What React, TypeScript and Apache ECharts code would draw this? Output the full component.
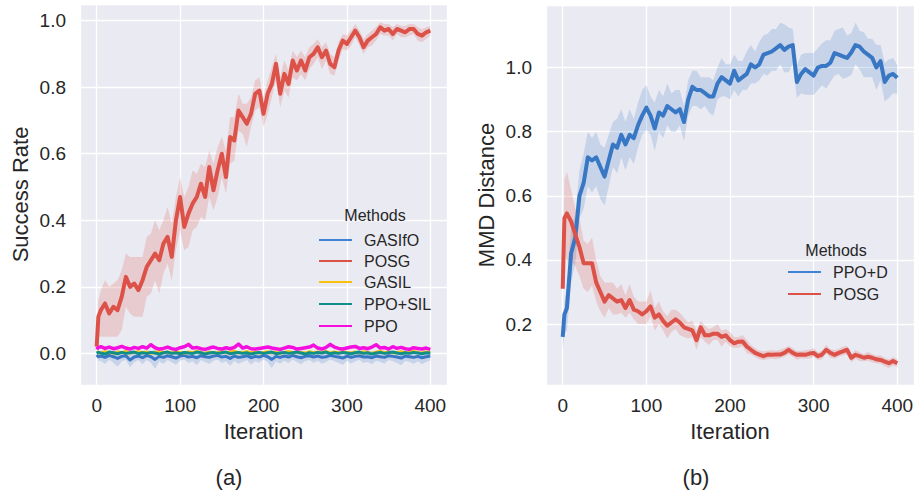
import React, { useEffect, useRef } from "react";
import * as echarts from "echarts";

// iterations (x values)
const ITER = [
  0, 2, 5, 10, 15, 20, 25, 30, 35, 40,
  45, 50, 55, 60, 65, 70, 75, 80, 85, 90,
  95, 100, 105, 110, 115, 120, 125, 130, 135, 140,
  145, 150, 155, 160, 165, 170, 175, 180, 185, 190,
  195, 200, 205, 210, 215, 220, 225, 230, 235, 240,
  245, 250, 255, 260, 265, 270, 275, 280, 285, 290,
  295, 300, 305, 310, 315, 320, 325, 330, 335, 340,
  345, 350, 355, 360, 365, 370, 375, 380, 385, 390,
  395, 400,
];

// ---- panel (a): success rate ----
const POSG_A = [
  0.02, 0.11, 0.13, 0.15, 0.12, 0.14, 0.13, 0.17, 0.23, 0.2,
  0.21, 0.19, 0.22, 0.26, 0.28, 0.3, 0.28, 0.33, 0.35, 0.29,
  0.4, 0.47, 0.38, 0.42, 0.45, 0.47, 0.51, 0.47, 0.56, 0.49,
  0.55, 0.6, 0.53, 0.65, 0.64, 0.73, 0.71, 0.69, 0.72, 0.78,
  0.79, 0.72, 0.78, 0.81, 0.87, 0.78, 0.84, 0.81, 0.88, 0.85,
  0.88, 0.85, 0.89, 0.9, 0.92, 0.89, 0.91, 0.87, 0.86, 0.91,
  0.94, 0.93, 0.95, 0.97, 0.95, 0.92, 0.94, 0.95, 0.96, 0.98,
  0.97, 0.975, 0.96, 0.975, 0.97, 0.965, 0.975, 0.975, 0.96, 0.955,
  0.965, 0.97,
];
const POSG_A_UP = [
  0.01, 0.05, 0.06, 0.07, 0.08, 0.07, 0.09, 0.08, 0.07, 0.09,
  0.08, 0.1, 0.07, 0.09, 0.08, 0.1, 0.09, 0.07, 0.09, 0.1,
  0.07, 0.06, 0.09, 0.08, 0.1, 0.07, 0.06, 0.09, 0.05, 0.08,
  0.07, 0.05, 0.08, 0.06, 0.07, 0.05, 0.04, 0.06, 0.05, 0.04,
  0.04, 0.05, 0.04, 0.05, 0.03, 0.05, 0.04, 0.04, 0.03, 0.04,
  0.03, 0.04, 0.03, 0.03, 0.025, 0.03, 0.025, 0.03, 0.03, 0.025,
  0.02, 0.025, 0.02, 0.02, 0.02, 0.025, 0.02, 0.02, 0.02, 0.015,
  0.02, 0.015, 0.02, 0.015, 0.015, 0.02, 0.015, 0.015, 0.02, 0.02,
  0.015, 0.015,
];
const POSG_A_LO = [
  0.01, 0.06, 0.08, 0.1, 0.07, 0.09, 0.08, 0.1, 0.09, 0.08,
  0.1, 0.08, 0.11, 0.09, 0.1, 0.08, 0.1, 0.09, 0.08, 0.07,
  0.09, 0.1, 0.07, 0.1, 0.08, 0.09, 0.1, 0.07, 0.09, 0.06,
  0.08, 0.07, 0.05, 0.08, 0.06, 0.06, 0.05, 0.07, 0.04, 0.05,
  0.05, 0.04, 0.06, 0.04, 0.05, 0.04, 0.05, 0.04, 0.05, 0.03,
  0.04, 0.03, 0.035, 0.03, 0.03, 0.035, 0.03, 0.03, 0.025, 0.03,
  0.025, 0.02, 0.025, 0.02, 0.025, 0.02, 0.02, 0.025, 0.02, 0.02,
  0.015, 0.02, 0.02, 0.015, 0.02, 0.015, 0.02, 0.015, 0.02, 0.02,
  0.02, 0.015,
];
const GASIFO_A = [
  -0.005, -0.01, -0.008, -0.012, -0.006, -0.01, -0.015, -0.009, -0.007, -0.02,
  -0.011, -0.008, -0.013, -0.006, -0.01, -0.018, -0.009, -0.012, -0.007, -0.01,
  -0.014, -0.008, -0.006, -0.011, -0.009, -0.013, -0.007, -0.01, -0.012, -0.008,
  -0.006, -0.011, -0.009, -0.015, -0.008, -0.012, -0.01, -0.007, -0.013, -0.009,
  -0.011, -0.006, -0.01, -0.018, -0.009, -0.012, -0.008, -0.011, -0.006, -0.01,
  -0.013, -0.009, -0.007, -0.011, -0.008, -0.012, -0.01, -0.006, -0.009, -0.011,
  -0.014, -0.008, -0.012, -0.009, -0.007, -0.011, -0.01, -0.013, -0.008, -0.01,
  -0.012, -0.007, -0.009, -0.011, -0.014, -0.008, -0.01, -0.012, -0.009, -0.013,
  -0.01, -0.008,
];
const GASIFO_A_SPREAD = [
  0.005, 0.012, 0.015, 0.02, 0.013, 0.018, 0.025, 0.015, 0.012, 0.022,
  0.016, 0.012, 0.02, 0.014, 0.018, 0.028, 0.015, 0.02, 0.013, 0.017,
  0.02, 0.014, 0.012, 0.018, 0.015, 0.022, 0.013, 0.017, 0.02, 0.014,
  0.012, 0.018, 0.015, 0.022, 0.014, 0.019, 0.016, 0.013, 0.021, 0.015,
  0.017, 0.012, 0.016, 0.026, 0.015, 0.019, 0.014, 0.018, 0.012, 0.016,
  0.02, 0.015, 0.013, 0.018, 0.014, 0.019, 0.016, 0.012, 0.015, 0.018,
  0.021, 0.014, 0.019, 0.015, 0.013, 0.018, 0.016, 0.02, 0.014, 0.016,
  0.019, 0.013, 0.015, 0.018, 0.022, 0.014, 0.016, 0.019, 0.015, 0.02,
  0.016, 0.013,
];
const GASIL_A = [
  0.002, 0.004, 0.001, 0.005, 0.003, 0.0, 0.004, 0.002, 0.006, 0.001,
  0.003, 0.005, 0.002, 0.004, 0.0, 0.003, 0.006, 0.002, 0.004, 0.001,
  0.005, 0.003, 0.001, 0.004, 0.002, 0.006, 0.003, 0.0, 0.004, 0.002,
  0.003, 0.005, 0.002, 0.004, 0.007, 0.001, 0.003, 0.005, 0.002, 0.004,
  0.001, 0.003, 0.005, 0.002, 0.004, 0.0, 0.003, 0.006, 0.002, 0.004,
  0.003, 0.001, 0.005, 0.002, 0.004, 0.003, 0.006, 0.001, 0.004, 0.002,
  0.005, 0.003, 0.001, 0.004, 0.002, 0.005, 0.003, 0.0, 0.004, 0.006,
  0.002, 0.004, 0.001, 0.003, 0.005, 0.002, 0.004, 0.006, 0.003, 0.001,
  0.004, 0.003,
];
const PPOSIL_A = [
  0.0, 0.003, 0.001, -0.002, 0.004, 0.002, -0.001, 0.003, 0.0, 0.002,
  0.004, -0.001, 0.002, 0.0, 0.003, 0.001, -0.002, 0.002, 0.004, 0.0,
  0.002, -0.001, 0.003, 0.001, 0.0, 0.004, 0.002, -0.002, 0.001, 0.003,
  0.0, 0.002, 0.004, -0.001, 0.001, 0.003, 0.0, 0.002, -0.002, 0.001,
  0.003, 0.0, 0.002, 0.004, -0.001, 0.001, 0.003, 0.0, 0.002, 0.004,
  0.001, -0.002, 0.002, 0.0, 0.003, 0.001, 0.004, -0.001, 0.002, 0.0,
  0.003, 0.001, -0.001, 0.002, 0.004, 0.0, 0.002, -0.002, 0.001, 0.003,
  0.0, 0.002, 0.004, 0.001, -0.001, 0.002, 0.0, 0.003, 0.001, -0.001,
  0.002, 0.001,
];
const PPO_A = [
  0.012, 0.018, 0.02, 0.015, 0.019, 0.014, 0.017, 0.021, 0.016, 0.013,
  0.018, 0.015, 0.02, 0.016, 0.026, 0.017, 0.013, 0.015, 0.019, 0.014,
  0.012, 0.017, 0.02, 0.027, 0.016, 0.018, 0.014, 0.012, 0.016, 0.019,
  0.015, 0.013, 0.017, 0.014, 0.018, 0.028, 0.016, 0.02, 0.014, 0.013,
  0.015, 0.017, 0.019, 0.016, 0.014, 0.012, 0.016, 0.02, 0.018, 0.013,
  0.015, 0.017, 0.019, 0.025, 0.016, 0.013, 0.018, 0.027, 0.019, 0.015,
  0.013, 0.016, 0.019, 0.021, 0.015, 0.017, 0.014, 0.019, 0.026, 0.016,
  0.018, 0.013, 0.02, 0.015, 0.018, 0.014, 0.012, 0.017, 0.015, 0.013,
  0.016, 0.012,
];

// ---- panel (b): MMD distance ----
const PPOD_B = [
  0.16, 0.23, 0.25, 0.42, 0.47, 0.6, 0.64, 0.72, 0.71, 0.72,
  0.69, 0.66, 0.71, 0.76, 0.75, 0.79, 0.76, 0.79, 0.78, 0.82,
  0.85, 0.875, 0.85, 0.81, 0.86, 0.85, 0.88, 0.87, 0.86, 0.87,
  0.83, 0.9, 0.94, 0.93, 0.93, 0.92, 0.91, 0.91, 0.95, 0.97,
  0.96, 0.95, 0.99, 0.96, 0.97, 0.98, 1.01, 1.0, 1.01, 1.04,
  1.045, 1.05, 1.06, 1.07, 1.055, 1.065, 1.07, 0.955, 0.98, 0.995,
  0.985, 0.975, 1.0, 1.005, 1.005, 1.015, 1.045, 1.04, 1.035, 1.03,
  1.047, 1.07, 1.065, 1.05, 1.04, 1.03, 1.0, 1.02, 0.955, 0.975,
  0.98, 0.968,
];
const PPOD_B_UP = [
  0.02, 0.04, 0.06, 0.08, 0.07, 0.08, 0.09, 0.08, 0.07, 0.08,
  0.07, 0.09, 0.08, 0.07, 0.09, 0.08, 0.07, 0.08, 0.06, 0.07,
  0.08, 0.07, 0.06, 0.08, 0.07, 0.06, 0.07, 0.05, 0.07, 0.06,
  0.05, 0.06, 0.05, 0.06, 0.04, 0.05, 0.06, 0.05, 0.05, 0.06,
  0.05, 0.06, 0.05, 0.06, 0.05, 0.07, 0.06, 0.05, 0.07, 0.06,
  0.06, 0.07, 0.06, 0.07, 0.08, 0.06, 0.05, 0.05, 0.06, 0.05,
  0.06, 0.07, 0.06, 0.07, 0.08, 0.07, 0.07, 0.08, 0.09, 0.07,
  0.06, 0.07, 0.05, 0.06, 0.05, 0.06, 0.07, 0.05, 0.06, 0.05,
  0.05, 0.04,
];
const PPOD_B_LO = [
  0.04, 0.06, 0.07, 0.09, 0.08, 0.07, 0.08, 0.09, 0.1, 0.09,
  0.1, 0.09, 0.08, 0.07, 0.08, 0.07, 0.08, 0.07, 0.08, 0.07,
  0.06, 0.07, 0.06, 0.07, 0.06, 0.07, 0.06, 0.07, 0.06, 0.05,
  0.06, 0.05, 0.06, 0.05, 0.06, 0.04, 0.05, 0.06, 0.05, 0.06,
  0.05, 0.05, 0.06, 0.05, 0.04, 0.05, 0.06, 0.05, 0.05, 0.06,
  0.07, 0.06, 0.07, 0.06, 0.07, 0.08, 0.06, 0.05, 0.06, 0.08,
  0.07, 0.06, 0.07, 0.06, 0.07, 0.06, 0.07, 0.06, 0.07, 0.06,
  0.07, 0.06, 0.07, 0.08, 0.07, 0.06, 0.07, 0.06, 0.06, 0.07,
  0.06, 0.05,
];
const POSG_B = [
  0.31, 0.53, 0.545, 0.52, 0.48, 0.44, 0.39, 0.39, 0.39, 0.33,
  0.3, 0.27, 0.29, 0.28, 0.27, 0.275, 0.25, 0.275, 0.245, 0.24,
  0.23, 0.24, 0.255, 0.22, 0.23, 0.21, 0.195, 0.205, 0.215, 0.205,
  0.19, 0.185, 0.18, 0.15, 0.19, 0.165, 0.165, 0.17, 0.17, 0.16,
  0.165, 0.15, 0.14, 0.145, 0.146, 0.13, 0.12, 0.11, 0.105, 0.1,
  0.105, 0.104, 0.105, 0.105, 0.11, 0.12, 0.11, 0.104, 0.105, 0.104,
  0.108, 0.11, 0.1, 0.105, 0.12, 0.11, 0.104, 0.11, 0.115, 0.12,
  0.095, 0.104, 0.1, 0.095, 0.098, 0.095, 0.09, 0.088, 0.083, 0.078,
  0.085, 0.078,
];
const POSG_B_UP = [
  0.0, 0.12, 0.13, 0.1, 0.08, 0.09, 0.07, 0.06, 0.08, 0.07,
  0.05, 0.06, 0.04, 0.05, 0.04, 0.05, 0.04, 0.05, 0.04, 0.03,
  0.04, 0.03, 0.05, 0.03, 0.04, 0.03, 0.03, 0.04, 0.03, 0.03,
  0.03, 0.02, 0.03, 0.03, 0.02, 0.03, 0.02, 0.02, 0.03, 0.02,
  0.02, 0.025, 0.02, 0.015, 0.02, 0.02, 0.015, 0.015, 0.012, 0.015,
  0.012, 0.015, 0.012, 0.015, 0.015, 0.012, 0.015, 0.012, 0.012, 0.015,
  0.012, 0.015, 0.012, 0.012, 0.015, 0.012, 0.015, 0.012, 0.015, 0.012,
  0.012, 0.015, 0.012, 0.012, 0.015, 0.012, 0.012, 0.015, 0.012, 0.012,
  0.012, 0.012,
];
const POSG_B_LO = [
  0.0, 0.1, 0.15, 0.12, 0.1, 0.09, 0.08, 0.09, 0.07, 0.06,
  0.06, 0.05, 0.04, 0.05, 0.04, 0.04, 0.03, 0.04, 0.03, 0.04,
  0.03, 0.04, 0.03, 0.04, 0.03, 0.03, 0.04, 0.03, 0.03, 0.04,
  0.03, 0.03, 0.02, 0.03, 0.03, 0.02, 0.03, 0.02, 0.02, 0.03,
  0.02, 0.02, 0.015, 0.02, 0.015, 0.02, 0.015, 0.012, 0.015, 0.012,
  0.015, 0.012, 0.015, 0.012, 0.012, 0.015, 0.012, 0.015, 0.012, 0.012,
  0.015, 0.012, 0.012, 0.015, 0.012, 0.015, 0.012, 0.012, 0.012, 0.015,
  0.015, 0.012, 0.015, 0.012, 0.012, 0.015, 0.012, 0.012, 0.015, 0.015,
  0.015, 0.012,
];

const LEGEND_A = ["GASIfO", "POSG", "GASIL", "PPO+SIL", "PPO"];
const LEGEND_B = ["PPO+D", "POSG"];

const C_BLUE = "#3877c4";
const C_BLUE_LEG = "#3f83d6";
const C_RED = "#dc5248";
const C_YELLOW = "#f9c20a";
const C_TEAL = "#108f88";
const C_MAGENTA = "#f40fe0";

const FONT = '"Liberation Sans", Arial, Helvetica, sans-serif';
const TXT = "#262626";

function pairs(vals: number[]) {
  return ITER.map((x, i) => [x, vals[i]]);
}

// confidence band drawn as one polygon through the axis scales
function band(id: string, lower: number[], upper: number[], color: string, axis: number, z: number): any {
  return {
    type: "custom",
    name: id + " band",
    coordinateSystem: "cartesian2d",
    xAxisIndex: axis,
    yAxisIndex: axis,
    silent: true,
    z,
    data: [[ITER[0], lower[0]]],
    renderItem: (_params: any, api: any) => {
      const pts: number[][] = [];
      for (let i = 0; i < ITER.length; i++) pts.push(api.coord([ITER[i], upper[i]]));
      for (let i = ITER.length - 1; i >= 0; i--) pts.push(api.coord([ITER[i], lower[i]]));
      return {
        type: "polygon",
        shape: { points: pts },
        style: { fill: color, opacity: 0.2, stroke: "none" },
      };
    },
  };
}

function line(name: string, vals: number[], color: string, width: number, axis: number, z: number) {
  return {
    type: "line",
    name,
    xAxisIndex: axis,
    yAxisIndex: axis,
    data: pairs(vals),
    symbol: "none",
    showSymbol: false,
    lineStyle: { color, width, join: "round" },
    itemStyle: { color },
    z,
  };
}

const fmtX = (v: number) => (Math.abs(v / 100 - Math.round(v / 100)) < 1e-6 ? String(Math.round(v)) : "");
const fmtY = (v: number) => (Math.abs(v / 0.2 - Math.round(v / 0.2)) < 1e-6 ? (Math.round(v * 10) / 10).toFixed(1) : "");

function xAxisCfg(gridIndex: number) {
  return {
    type: "value",
    gridIndex,
    min: -20,
    max: 420,
    splitNumber: 5,
    name: "Iteration",
    nameLocation: "middle",
    nameGap: 35,
    nameTextStyle: { fontSize: 22, fontFamily: FONT, color: TXT },
    axisLine: { show: false },
    axisTick: { show: false },
    axisLabel: { formatter: fmtX, fontSize: 19, fontFamily: FONT, color: TXT, margin: 11 },
    splitLine: { show: true, lineStyle: { color: "#ffffff", width: 1.3 } },
  };
}

function yAxisCfg(gridIndex: number, min: number, max: number, name: string) {
  return {
    type: "value",
    gridIndex,
    min,
    max,
    splitNumber: 5,
    name,
    nameLocation: "middle",
    nameGap: 49,
    nameTextStyle: { fontSize: 22, fontFamily: FONT, color: TXT },
    axisLine: { show: false },
    axisTick: { show: false },
    axisLabel: { formatter: fmtY, fontSize: 19, fontFamily: FONT, color: TXT, margin: 14 },
    splitLine: { show: true, lineStyle: { color: "#ffffff", width: 1.3 } },
  };
}

function legendGraphics(
  names: string[],
  colors: string[],
  titleX: number,
  titleY: number,
  lineX1: number,
  lineX2: number,
  textX: number,
  rows: number[]
): any[] {
  const els: any[] = [
    {
      type: "text",
      x: titleX,
      y: titleY,
      style: { text: "Methods", fontSize: 16, fontFamily: FONT, fill: TXT, align: "center", verticalAlign: "middle" },
      z: 10,
    },
  ];
  names.forEach((n, i) => {
    els.push({
      type: "line",
      shape: { x1: lineX1, y1: rows[i], x2: lineX2, y2: rows[i] },
      style: { stroke: colors[i], lineWidth: 2 },
      z: 10,
    });
    els.push({
      type: "text",
      x: textX,
      y: rows[i],
      style: { text: n, fontSize: 16, fontFamily: FONT, fill: TXT, align: "left", verticalAlign: "middle" },
      z: 10,
    });
  });
  return els;
}

export default function App() {
  const ref = useRef<HTMLDivElement>(null);
  useEffect(() => {
    if (!ref.current) return;
    const chart = echarts.init(ref.current, undefined, { renderer: "svg" });

    const gasifoLo = GASIFO_A.map((v, i) => v - GASIFO_A_SPREAD[i]);
    const gasifoHi = GASIFO_A.map((v, i) => v + GASIFO_A_SPREAD[i]);
    const posgALo = POSG_A.map((v, i) => v - POSG_A_LO[i]);
    const posgAHi = POSG_A.map((v, i) => v + POSG_A_UP[i]);
    const ppodLo = PPOD_B.map((v, i) => v - PPOD_B_LO[i]);
    const ppodHi = PPOD_B.map((v, i) => v + PPOD_B_UP[i]);
    const posgBLo = POSG_B.map((v, i) => v - POSG_B_LO[i]);
    const posgBHi = POSG_B.map((v, i) => v + POSG_B_UP[i]);

    const option: any = {
      animation: false,
      backgroundColor: "#ffffff",
      textStyle: { fontFamily: FONT },
      grid: [
        { left: 80, top: 4, width: 367, height: 381, show: true, backgroundColor: "#eaeaf2", borderWidth: 0 },
        { left: 546, top: 5, width: 368, height: 380, show: true, backgroundColor: "#eaeaf2", borderWidth: 0 },
      ],
      xAxis: [xAxisCfg(0), xAxisCfg(1)],
      yAxis: [
        yAxisCfg(0, -0.095, 1.05, "Success Rate"),
        yAxisCfg(1, 0.01, 1.195, "MMD Distance"),
      ],
      series: [
        band("GASIfO", gasifoLo, gasifoHi, C_BLUE, 0, 1),
        line("GASIfO", GASIFO_A, C_BLUE, 3, 0, 2),
        band("POSG-a", posgALo, posgAHi, C_RED, 0, 2),
        line("POSG", POSG_A, C_RED, 4, 0, 3),
        line("GASIL", GASIL_A, C_YELLOW, 3, 0, 4),
        line("PPO+SIL", PPOSIL_A, C_TEAL, 3, 0, 5),
        line("PPO", PPO_A, C_MAGENTA, 3.5, 0, 6),
        band("PPO+D", ppodLo, ppodHi, C_BLUE, 1, 1),
        line("PPO+D", PPOD_B, C_BLUE, 4, 1, 2),
        band("POSG-b", posgBLo, posgBHi, C_RED, 1, 2),
        line("POSG ", POSG_B, C_RED, 4, 1, 3),
      ],
      graphic: [
        ...legendGraphics(
          LEGEND_A,
          [C_BLUE_LEG, C_RED, C_YELLOW, C_TEAL, C_MAGENTA],
          375, 215, 319, 352, 364,
          [240, 261, 282, 304, 326]
        ),
        ...legendGraphics(
          LEGEND_B,
          [C_BLUE_LEG, C_RED],
          836, 250, 788, 821, 833,
          [272, 294]
        ),
        {
          type: "text",
          x: 229,
          y: 477,
          style: { text: "(a)", fontSize: 22, fontFamily: FONT, fill: TXT, align: "center", verticalAlign: "middle" },
        },
        {
          type: "text",
          x: 696,
          y: 477,
          style: { text: "(b)", fontSize: 22, fontFamily: FONT, fill: TXT, align: "center", verticalAlign: "middle" },
        },
      ],
    };
    chart.setOption(option);
    return () => chart.dispose();
  }, []);

  return (
    <div
      ref={ref}
      style={{ position: "fixed", left: 0, top: 0, width: 917, height: 492, background: "#fff" }}
    />
  );
}
